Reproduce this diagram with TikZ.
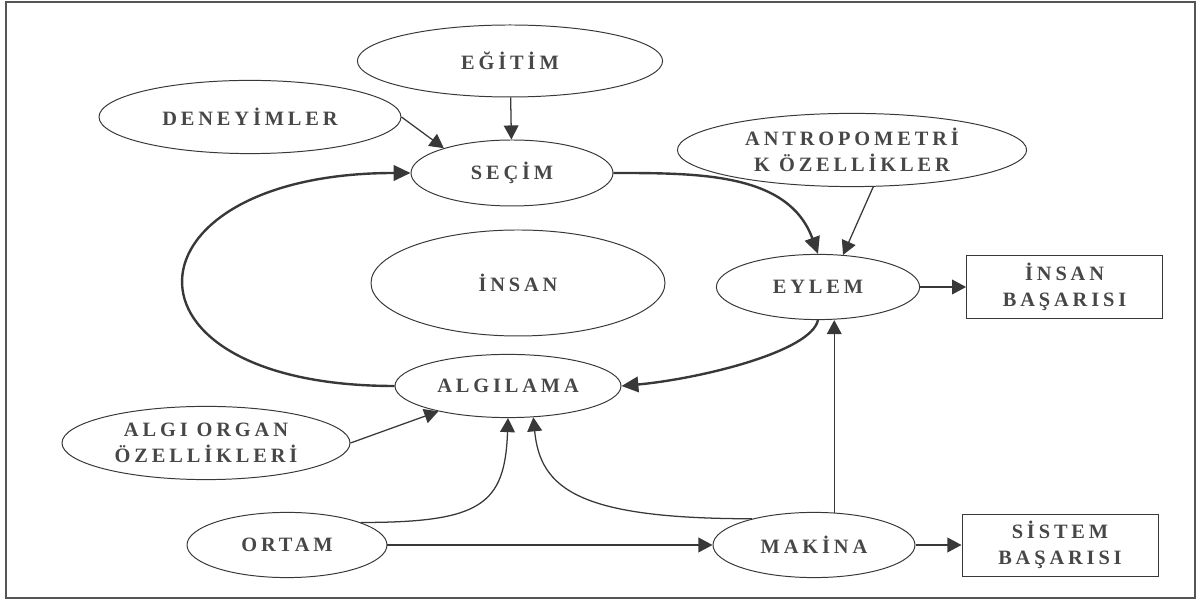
\documentclass[tikz,border=0pt]{standalone}
\usepackage{fontspec}
\setmainfont{Liberation Serif}
\usepackage{tikz}
\usetikzlibrary{shapes.geometric,arrows.meta,positioning}
\definecolor{ink}{HTML}{383838}
\definecolor{lead}{HTML}{474747}
\definecolor{frame}{HTML}{555555}

\begin{document}
\begin{tikzpicture}[
      node distance=1.15cm,
      oval/.style={ellipse, draw=ink, line width=0.7pt, inner sep=0pt, text=lead,
                   font=\fontsize{14.5}{18}\selectfont\bfseries\addfontfeature{LetterSpace=19},
                   align=center},
      box/.style={rectangle, draw=ink, line width=0.7pt, text=lead,
                  minimum width=4.9cm, minimum height=1.55cm,
                  font=\fontsize{14.5}{18}\selectfont\bfseries\addfontfeature{LetterSpace=19},
                  align=center},
      arr/.style={-{Triangle[length=10pt,width=10.5pt]}, line width=0.9pt, color=ink},
      cyc/.style={-{Triangle[length=12pt,width=11pt]}, line width=1.7pt, color=ink}
    ]
      \useasboundingbox (0,0) rectangle (30.1,15.075);
      \draw[frame, line width=0.8pt] (0.15,0.125) rectangle (29.875,15.025);

      \node[oval, minimum width=7.63cm, minimum height=1.8cm]  (egitim) at (12.75,13.55) {EĞİTİM};
      \node[oval, minimum width=7.55cm, minimum height=1.83cm] (deney)  at (6.25,12.15)  {DENEYİMLER};
      \node[oval, minimum width=5.05cm, minimum height=1.65cm] (secim)  at (12.8,10.75)  {SEÇİM};
      \node[oval, minimum width=7.35cm, minimum height=2.65cm] (insan)  at (12.95,8.0)   {İNSAN};
      \node[oval, minimum width=8.73cm, minimum height=1.83cm] (antro)  at (21.3,11.325) {ANTROPOMETRİ\\K ÖZELLİKLER};
      \node[oval, minimum width=5.08cm, minimum height=1.63cm] (eylem)  at (20.45,7.9)   {EYLEM};
      \node[box, right=of eylem] (ibasari) {İNSAN\\BAŞARISI};
      \node[oval, minimum width=5.65cm, minimum height=1.58cm] (algi)   at (12.7,5.425)  {ALGILAMA};
      \node[oval, minimum width=7.2cm, minimum height=1.83cm]  (organ)  at (5.15,4.0)    {ALGI ORGAN\\ÖZELLİKLERİ};
      \node[oval, minimum width=5.0cm, minimum height=1.63cm]  (ortam)  at (7.175,1.45)  {ORTAM};
      \node[oval, minimum width=5.05cm, minimum height=1.63cm] (makina) at (20.35,1.45)  {MAKİNA};
      \node[box, right=of makina] (sbasari) {SİSTEM\\BAŞARISI};

      % thin arrows
      \draw[arr] (egitim) -- (secim);
      \draw[arr] (deney.east) -- (secim.160);
      \draw[arr] (antro.-60) -- (eylem.52);
      \draw[arr] (eylem) -- (ibasari);
      \draw[arr] (organ.east) -- (algi.-160);
      \draw[arr] (ortam) -- (makina);
      \draw[arr] (makina) -- (sbasari);
      \draw[arr] (makina.58) -- (makina.58 |- eylem.south);
      \draw[arr] (ortam.17) .. controls +(3,0) and +(-0.075,-2.175) .. (algi.south);
      \draw[arr] (makina.157) .. controls +(-4.325,0) and +(0.175,-1.8) .. (algi.-51);

      % the loop
      \draw[cyc] (secim.east) to[out=0, in=110] (eylem.north);
      \draw[cyc] (eylem.south) .. controls +(-0.175,-0.8) and +(1.925,0.175) .. (algi.east);
      \draw[cyc] (algi.west) .. controls +(-7.28,0) and +(-7.28,0) .. (secim.west);
    \end{tikzpicture}
\end{document}
